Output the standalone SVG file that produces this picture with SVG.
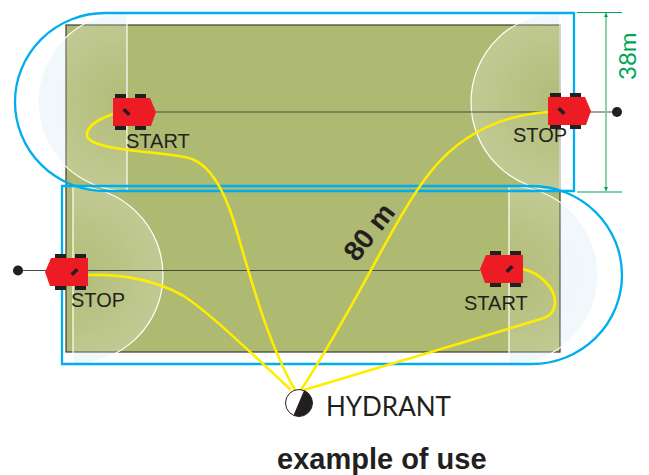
<svg xmlns="http://www.w3.org/2000/svg" width="649" height="475" viewBox="0 0 649 475">
<style>
.tint{fill:#edf6fb}
.veil{stroke:#fff;stroke-width:1.2}
.blue{fill:none;stroke:#00aeef;stroke-width:2.300}
.yellow{fill:none;stroke:#ffed00;stroke-width:2.600}
.track{fill:none;stroke:#4a4a42;stroke-width:1.100}
.body{fill:#ed1c24}
.wheel,.dot{fill:#231f20}
.lbl{font-family:"Liberation Sans",Arial,sans-serif;font-size:20px;fill:#231f20}
.dim{stroke:#00a651;stroke-width:1.200;fill:none}
</style>
<defs>
<radialGradient id="v" gradientUnits="userSpaceOnUse" cx="0" cy="0" r="89">
<stop offset="0" stop-color="#fff" stop-opacity=".04"/>
<stop offset="1" stop-color="#fff" stop-opacity=".24"/>
</radialGradient>
<radialGradient id="v1" href="#v" gradientUnits="userSpaceOnUse" cx="127" cy="102" fx="127" fy="102" r="89"/>
<radialGradient id="v2" href="#v" gradientUnits="userSpaceOnUse" cx="560" cy="102" fx="560" fy="102" r="89"/>
<radialGradient id="v3" href="#v" gradientUnits="userSpaceOnUse" cx="73" cy="275" fx="73" fy="275" r="89"/>
<radialGradient id="v4" href="#v" gradientUnits="userSpaceOnUse" cx="509" cy="275" fx="509" fy="275" r="89"/>
<g id="robot">
<rect class="wheel" x="2" y="-18" width="11" height="5"/>
<rect class="wheel" x="22" y="-18" width="11" height="5"/>
<rect class="wheel" x="2" y="13" width="11" height="5"/>
<rect class="wheel" x="22" y="13" width="11" height="5"/>
<path class="body" d="M0-14H37L43 0 38 14H0Z"/>
<rect class="wheel" x="9.500" y="-1.800" width="8" height="3.600" transform="rotate(45 13.500 0)"/>
</g>
</defs>
<g id="coverage-tint">
<path class="tint" d="M127 13A89 89 0 0 0 127 191Z"/>
<path class="tint" d="M560 13A89 89 0 0 0 560 191Z"/>
<path class="tint" d="M73 186A90 89 0 0 1 73 364Z"/>
<path class="tint" d="M509 186A89 89 0 0 1 509 364Z"/>
</g>
<g id="field">
<rect x="66" y="25" width="494" height="327" fill="#aeb971" stroke="#3c3c32" stroke-width="1.200"/>
</g>
<g id="coverage">
<path class="veil" fill="url(#v1)" d="M127 13A89 89 0 0 0 127 191Z"/>
<path class="veil" fill="url(#v2)" d="M560 13A89 89 0 0 0 560 191Z"/>
<path class="veil" fill="url(#v3)" d="M73 186A90 89 0 0 1 73 364Z"/>
<path class="veil" fill="url(#v4)" d="M509 186A89 89 0 0 1 509 364Z"/>
</g>
<g id="connectors">
<path class="blue" d="M574 13H105A90 89 0 0 0 105 191H574Z"/>
<path class="blue" d="M62 186H532A90 89 0 0 1 532 364H62Z"/>
<path class="track" d="M156 112H617"/>
<path class="track" d="M18 270.500H480"/>
<path class="yellow" d="M113 114C96 120 86 128 87 136C89 146 125 150 145 152C165 154 180 155 192 159C210 166 224 190 234 222C248 268 266 340 295 390"/>
<path class="yellow" d="M548 112C505 115 465 130 432 170C395 215 360 300 301 390"/>
<path class="yellow" d="M88 275C125 274 158 282 182 295C200 306 225 328 291 390"/>
<path class="yellow" d="M523 269C540 273 555 288 555 302C555 312 548 317 541 319L304 390"/>
</g>
<g id="robot-start-top"><use href="#robot" x="113" y="112"/><text class="lbl" x="126" y="148">START</text></g>
<g id="robot-stop-top"><use href="#robot" transform="translate(548 111)"/><circle class="dot" cx="617" cy="112" r="5"/><text class="lbl" x="513" y="142">STOP</text></g>
<g id="robot-stop-bottom"><use href="#robot" transform="translate(88 272) scale(-1 1)"/><circle class="dot" cx="18" cy="270.500" r="5"/><text class="lbl" x="71" y="307">STOP</text></g>
<g id="robot-start-bottom"><use href="#robot" transform="translate(523 269) scale(-1 1)"/><text class="lbl" x="464" y="310">START</text></g>
<g id="dimension-38m">
<path class="dim" d="M577 12.500H622M577 192H622"/>
<path d="M606 13V191" stroke="#7fcba0" stroke-width="1.800" fill="none"/>
<path d="M606 13l-2 4h4ZM606 191l-2-4h4Z" fill="#00a651"/>
<text transform="translate(636 80) rotate(-90)" font-family="Lato,'Liberation Sans',sans-serif" font-size="24" fill="#00a651">38m</text>
</g>
<g id="dimension-80m">
<text transform="translate(357 263) rotate(-52)" font-family="'Liberation Sans',Arial,sans-serif" font-weight="700" font-size="28" fill="#231f20">80 m</text>
</g>
<g id="hydrant">
<circle cx="299" cy="403" r="13.500" fill="#fff" stroke="#231f20" stroke-width="1"/>
<path d="M304 390.400A13.500 13.500 0 0 1 293.500 415.300Z" fill="#231f20"/>
<text x="326" y="416" font-family="Lato,'Liberation Sans',sans-serif" font-size="26" fill="#231f20">HYDRANT</text>
</g>
<text x="277" y="469" font-family="'Liberation Sans',Arial,sans-serif" font-weight="700" font-size="29" fill="#231f20">example of use</text>
</svg>
